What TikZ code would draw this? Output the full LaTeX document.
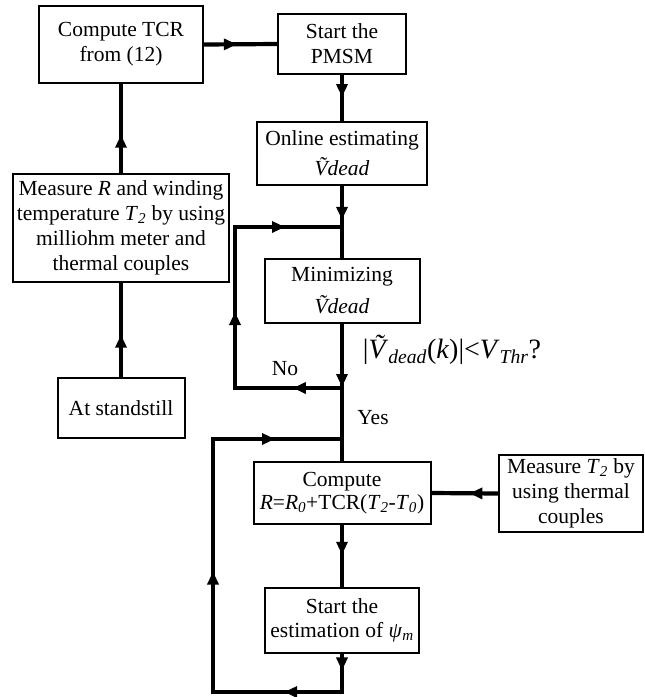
\documentclass[tikz,border=0pt]{standalone}
\usepackage{fontspec}
\setmainfont{Liberation Serif}
\usetikzlibrary{arrows.meta,decorations.markings}
\newcommand{\Vt}{\textit{\~{V}}}
\newcommand{\isub}[1]{\textsubscript{\textit{#1}}}
\pgfkeys{/pgf/decoration/tipmark/.style={mark=at position #1 with {\arrow{Triangle[length=13pt,width=11pt]}}}}
\tikzset{
  box/.style={draw, line width=2pt, align=center, inner sep=0pt,
    font=\fontsize{21.5}{25}\selectfont},
  conn/.style={line width=4.2pt, line join=miter},
  markat/.style={postaction={decorate,decoration={markings,tipmark=#1}}},
  lbl/.style={font=\fontsize{21.5}{25}\selectfont, inner sep=0pt},
}
\begin{document}
\begin{tikzpicture}[x=1pt,y=-1pt]
\useasboundingbox (0,0) rectangle (645,697);
% boxes
\node[box, minimum width=164pt, minimum height=77pt] (tcr) at (121,44.5) {Compute TCR\\from (12)};
\node[box, minimum width=128pt, minimum height=60pt] (start) at (342,44) {Start the\\PMSM};
\node[box, minimum width=170pt, minimum height=63pt] (online) at (342,153.5) {Online estimating\\[5pt]\textit{\~{V}dead}};
\node[box, minimum width=155pt, minimum height=64pt] (mini) at (342,291) {Minimizing\\[7pt]\textit{\~{V}dead}};
\node[box, minimum width=216pt, minimum height=108pt] (measR) at (121,228) {Measure \textit{R} and winding\\temperature \textit{T}\isub{2} by using\\milliohm meter and\\thermal couples};
\node[box, minimum width=127pt, minimum height=60pt] (stand) at (121,408) {At standstill};
\node[box, minimum width=177pt, minimum height=62pt] (comp) at (342,493) {Compute\\[-2pt]\textit{R}=\textit{R}\isub{0}+TCR(\textit{T}\isub{2}-\textit{T}\isub{0})};
\node[box, minimum width=144pt, minimum height=77pt] (measT) at (571,493.5) {Measure \textit{T}\isub{2} by\\using thermal\\couples};
\node[box, minimum width=154pt, minimum height=65pt] (est) at (342,620.5) {Start the\\[-1pt]estimation of \textit{ψ}\isub{m}};
% junction coordinates
\coordinate (j0) at (342,227);
\coordinate (l1t) at (235,227);
\coordinate (l1b) at (235,388);
\coordinate (j1) at (342,388);
\coordinate (j2) at (342,439);
\coordinate (l2t) at (213,439);
\coordinate (l2b) at (213,692);
\coordinate (eb) at (342,692);
% connectors
\draw[conn, markat=0.45] (tcr.east) -- (start.west);
\draw[conn, markat=0.48] (start.south) -- (online.north);
\draw[conn, markat=0.47] (online.south) -- (mini.north);
\draw[conn, markat=0.46] (mini.south) -- (comp.north);
\draw[conn, postaction={decorate,decoration={markings,tipmark=0.131,tipmark=0.488,tipmark=0.848}}]
  (j1) -- (l1b) -- (l1t) -- (j0);
\draw[conn, markat=0.48] (comp.south) -- (est.north);
\draw[conn, postaction={decorate,decoration={markings,tipmark=0.03,tipmark=0.1745,tipmark=0.5236,tipmark=0.878}}]
  (est.south) -- (eb) -- (l2b) -- (l2t) -- (j2);
\draw[conn, markat=0.43] (measT.west) -- (comp.east);
\draw[conn, markat=0.45] (stand.north) -- (measR.south);
\draw[conn, markat=0.43] (measR.north) -- (tcr.south);
% labels
\node[lbl] (no) at (285,369) {No};
\node[lbl] (yes) at (373,418) {Yes};
\node[inner sep=0pt, font=\fontsize{28}{30}\selectfont] (cond) at (452,350)
  {|\Vt\textsubscript{\textit{dead}}(\textit{k})|<\textit{V}\textsubscript{\textit{Thr}}?};
\end{tikzpicture}
\end{document}
